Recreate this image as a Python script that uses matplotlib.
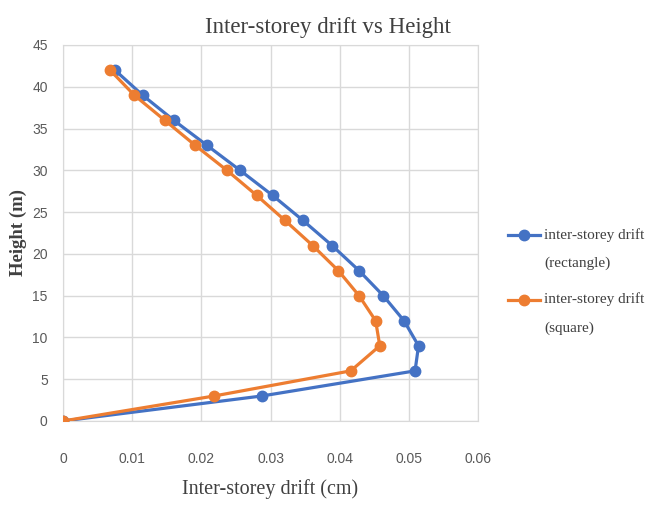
import matplotlib
matplotlib.use("Agg")
import matplotlib.pyplot as plt
import matplotlib.transforms as mtransforms
from matplotlib.legend_handler import HandlerLine2D

height_m = [0, 3, 6, 9, 12, 15, 18, 21, 24, 27, 30, 33, 36, 39, 42]
drift_rectangle = [0, 0.0288, 0.0509, 0.0514, 0.0493, 0.0463, 0.0428, 0.0389,
                   0.0347, 0.0303, 0.0256, 0.0208, 0.0160, 0.0115, 0.0075]
drift_square = [0, 0.0219, 0.0416, 0.0458, 0.0452, 0.0428, 0.0398, 0.0361,
                0.0321, 0.0280, 0.0237, 0.0191, 0.0147, 0.0103, 0.0068]
x_ticks = [0, 0.01, 0.02, 0.03, 0.04, 0.05, 0.06]
x_tick_labels = ["0", "0.01", "0.02", "0.03", "0.04", "0.05", "0.06"]
y_ticks = [0, 5, 10, 15, 20, 25, 30, 35, 40, 45]
label_rect = "inter-storey drift\n(rectangle)"
label_square = "inter-storey drift\n(square)"

serif = ["Liberation Serif", "DejaVu Serif"]
narrow = ["Liberation Sans Narrow", "Liberation Sans", "DejaVu Sans"]


class TopLineHandler(HandlerLine2D):
    """Place the legend handle level with the first line of its label."""
    def create_artists(self, legend, orig_handle, xdescent, ydescent,
                       width, height, fontsize, trans):
        arts = super().create_artists(legend, orig_handle, xdescent, ydescent,
                                      width, height, fontsize, trans)
        shifted = mtransforms.Affine2D().translate(0, 10) + trans
        for a in arts:
            a.set_transform(shifted)
        return arts


fig = plt.figure(figsize=(6.52, 5.18), dpi=100)
ax = fig.add_axes([63/652, 1-421/518, (478-63)/652, (421-45)/518])

l1, = ax.plot(drift_rectangle, height_m, color="#4472C4", lw=2.3, marker="o",
              ms=7.5, label=label_rect, zorder=3)
l2, = ax.plot(drift_square, height_m, color="#ED7D31", lw=2.3, marker="o",
              ms=7.5, label=label_square, zorder=3)

ax.set_xlim(0, 0.06)
ax.set_ylim(0, 45)
ax.set_xticks(x_ticks)
ax.set_xticklabels(x_tick_labels)
ax.set_yticks(y_ticks)
ax.grid(True, color="#d9d9d9", lw=1)
ax.set_axisbelow(True)
for s in ax.spines.values():
    s.set_color("#d9d9d9")
ax.tick_params(length=0, colors="#595959", labelsize=10)
ax.tick_params(axis="x", pad=22)
ax.tick_params(axis="y", pad=11)
for lab in ax.get_xticklabels() + ax.get_yticklabels():
    lab.set_family(narrow)

fig.text(328/652, 1-28/518, "Inter-storey drift vs Height", family=serif,
         fontsize=16.5, color="#404040", ha="center", va="center")
ax.set_xlabel("Inter-storey drift (cm)", family=serif, fontsize=14.5,
              color="#404040", labelpad=10)
ax.set_ylabel("Height (m)", family=serif, fontsize=13.5, fontweight="bold",
              color="#404040", labelpad=4)

leg = fig.legend(loc="upper left", bbox_to_anchor=(494/652, 1-214/518),
                 frameon=False, prop={"family": serif, "size": 11},
                 handlelength=2.1, labelspacing=1.45, handletextpad=0.3,
                 handler_map={l1: TopLineHandler(), l2: TopLineHandler()})
for t in leg.get_texts():
    t.set_color("#404040")
    t.set_linespacing(2.5)

fig.savefig("out.png", dpi=100)
